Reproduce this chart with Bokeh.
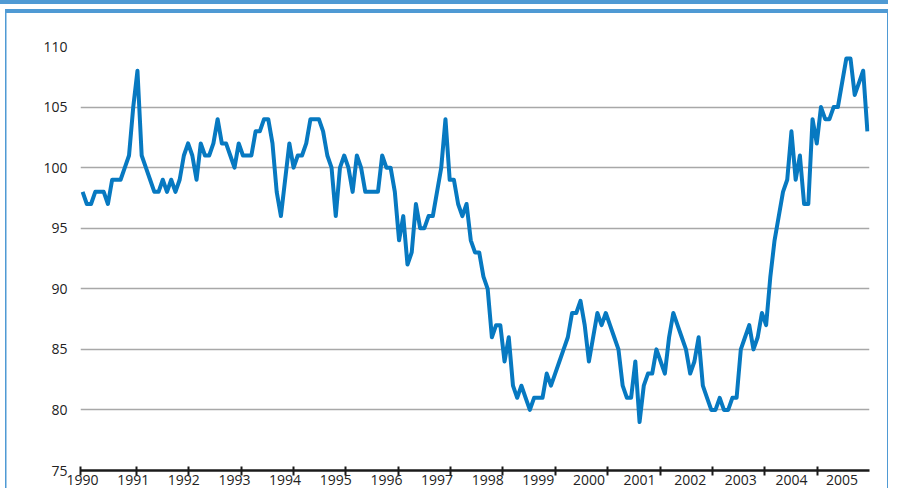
from bokeh.plotting import figure
from bokeh.models import Range1d, FixedTicker, ColumnDataSource
from bokeh.embed import file_html
from bokeh.resources import INLINE

# ---- data (monthly index, Jan 1990 .. Jul 2005) ----
values_1990_1993 = [98, 97, 97, 98, 98, 98, 97, 99, 99, 99, 100, 101, 105, 108, 101, 100, 99, 98, 98, 99,
                    98, 99, 98, 99, 101, 102, 101, 99, 102, 101, 101, 102, 104, 102, 102, 101, 100, 102, 101]
values_1993_1996 = [101, 101, 103, 103, 104, 104, 102, 98, 96, 99, 102, 100, 101, 101, 102, 104, 104, 104, 103,
                    101, 100, 96, 100, 101, 100, 98, 101, 100, 98, 98, 98, 98, 101, 100, 100, 98, 94, 96]
values_1996_1999 = [92, 93, 97, 95, 95, 96, 96, 98, 100, 104, 99, 99, 97, 96, 97, 94, 93, 93, 91, 90, 86, 87,
                    87, 84, 86, 82, 81, 82, 81, 80, 81, 81, 81, 83, 82, 83, 84]
values_1999_2002 = [85, 86, 88, 88, 89, 87, 84, 86, 88, 87, 88, 87, 86, 85, 82, 81, 81, 84, 79, 82, 83, 83,
                    85, 84, 83, 86, 88, 87, 86, 85, 83, 84, 86, 82, 81, 80]
values_2002_2005 = [80, 81, 80, 80, 81, 81, 85, 86, 87, 85, 86, 88, 87, 91, 94, 96, 98, 99, 103, 99, 101, 97,
                    97, 104, 102, 105, 104, 104, 105, 105, 107, 109, 109, 106, 107, 108, 103]
values = values_1990_1993 + values_1993_1996 + values_1996_1999 + values_1999_2002 + values_2002_2005

year_labels = ["1990", "1991", "1992", "1993", "1994", "1995", "1996", "1997",
               "1998", "1999", "2000", "2001", "2002", "2003", "2004", "2005"]
y_ticks = [75, 80, 85, 90, 95, 100, 105, 110]

# axis configuration (positions in month-index units)
tick_mark_positions = [-0.5, 12.77, 25.17, 37.59, 49.99, 62.38, 74.87, 87.27, 99.6,
                       112.09, 124.48, 136.97, 149.37, 161.69, 174.11]
label_positions = [12 * k for k in range(len(year_labels))]

src = ColumnDataSource(data=dict(m=list(range(len(values))), v=values))

W, H = 888, 488
BLUE = "#4f9ad4"
grad = f"linear-gradient({BLUE}, {BLUE})"
deco = {
    "background-color": "white",
    "background-image": ", ".join([grad] * 4),
    "background-size": "100% 4px, calc(100% - 5px) 4px, 1.5px 100%, 1.5px 100%",
    "background-position": "0px 0px, 5px 9px, 5px 9px, right 0px top 9px",
    "background-repeat": "no-repeat",
}

p = figure(width=W, height=H, output_backend="svg", toolbar_location=None,
           x_range=Range1d(-0.5, len(values) - 0.5), y_range=Range1d(75, 110),
           min_border_left=80, min_border_right=19, min_border_top=46, min_border_bottom=18,
           styles=deco)
p.outline_line_color = None
p.background_fill_color = "white"
p.border_fill_alpha = 0

p.line(x="m", y="v", source=src, line_color="#0779c1", line_width=4, line_join="round")

FONT = "Open Sans"
TXT = "#222222"

xa = p.xaxis[0]
xa.ticker = FixedTicker(ticks=label_positions, minor_ticks=tick_mark_positions)
xa.major_label_overrides = {pos: lab for pos, lab in zip(label_positions, year_labels)}
xa.major_tick_in = 0
xa.major_tick_out = 0
xa.major_tick_line_color = None
xa.minor_tick_in = 4
xa.minor_tick_out = 5
xa.minor_tick_line_color = "#1a1a1a"
xa.minor_tick_line_width = 2
xa.axis_line_color = "#1a1a1a"
xa.axis_line_width = 2.5
xa.major_label_standoff = -1
xa.major_label_text_font = FONT
xa.major_label_text_font_size = "14px"
xa.major_label_text_color = TXT

ya = p.yaxis[0]
ya.ticker = FixedTicker(ticks=y_ticks)
ya.axis_line_color = None
ya.major_tick_line_color = None
ya.minor_tick_line_color = None
ya.major_tick_in = 0
ya.major_tick_out = 0
ya.major_label_standoff = 13
ya.major_label_text_font = FONT
ya.major_label_text_font_size = "14px"
ya.major_label_text_color = TXT

p.xgrid.visible = False
p.ygrid.ticker = FixedTicker(ticks=y_ticks[1:])
p.ygrid.grid_line_color = "#a8a8a8"
p.ygrid.grid_line_width = 1.5

open("out.html", "w").write(file_html(p, INLINE))
